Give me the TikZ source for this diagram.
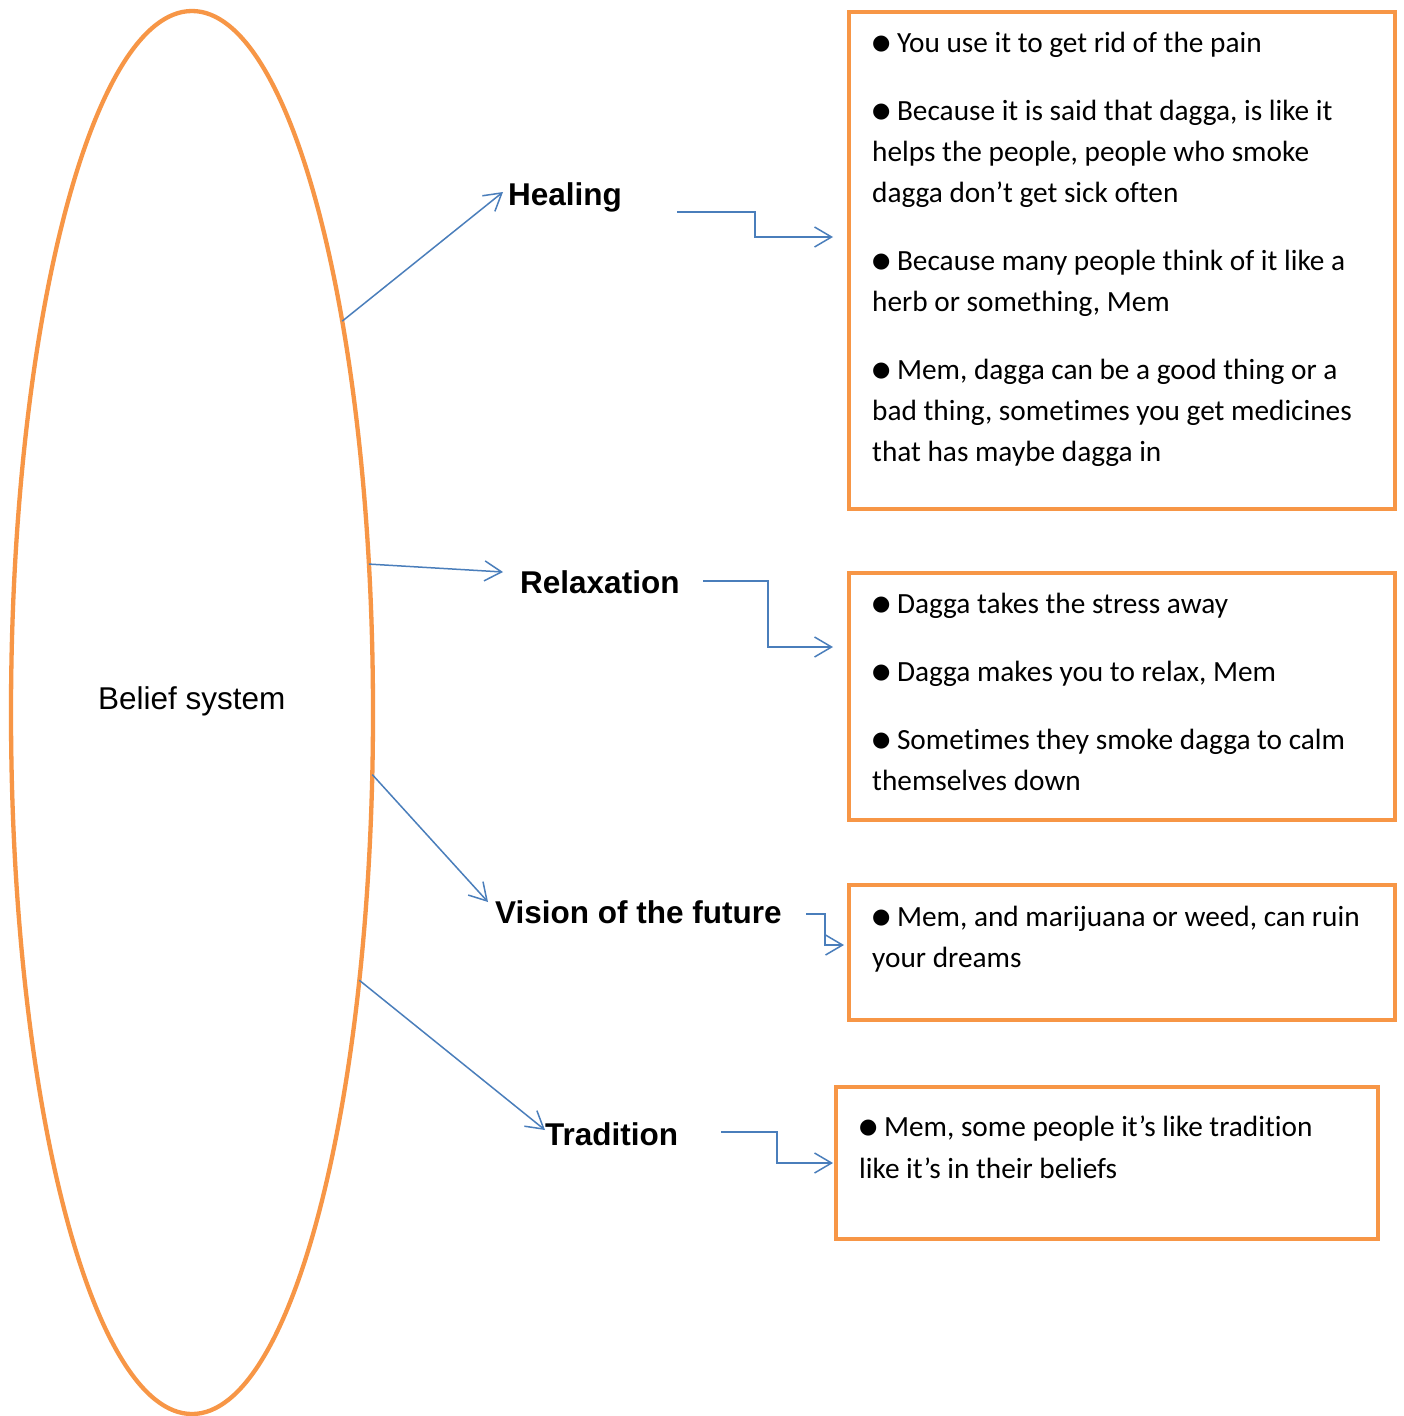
\documentclass[tikz,border=0pt]{standalone}
\usepackage{fontspec}
\setmainfont{Carlito}[Ligatures=NoCommon]
\newfontfamily\labfont{Liberation Sans}
\newfontfamily\bulfont{DejaVu Sans}
\usetikzlibrary{arrows.meta,calc,shapes.geometric}
\definecolor{borange}{HTML}{F79646}
\definecolor{cblue}{HTML}{4A7EBB}
\newcommand{\bul}{\raisebox{2.5pt}{\bulfont\fontsize{21pt}{21pt}\selectfont ●}\hspace{6.5pt}}
\begin{document}
\begin{tikzpicture}[x=1pt,y=-1pt,
  conn/.style={draw=cblue, line width=1.5pt, -{Straight Barb[length=17pt,width=20pt]}},
  obox/.style={draw=borange, line width=4.3pt, rectangle, inner sep=0pt, outer sep=0pt},
  lab/.style={anchor=base west, inner sep=0pt, font=\labfont\bfseries\fontsize{31.5pt}{36pt}\selectfont},
  ln/.style={anchor=base west, inner sep=0pt, font=\fontsize{29.3pt}{41pt}\selectfont},
]
\fill[white] (0,0) rectangle (1404,1416);
\useasboundingbox (0,0) rectangle (1404,1416);

% ellipse
\node[draw=borange, line width=4.3pt, ellipse, minimum width=362pt, minimum height=1403pt, inner sep=0pt, outer sep=0pt] (bel) at (192,712.5) {};
\node[anchor=base west, inner sep=0pt, font=\labfont\fontsize{31.5pt}{36pt}\selectfont] (bs) at (98,709) {Belief system};

% category labels
\node[lab] (heal) at (508,205) {Healing};
\node[lab] (relax) at (520,593) {Relaxation};
\node[lab] (vis) at (495,923) {Vision of the future};
\node[lab] (trad) at (545,1145) {Tradition};

% boxes
\node[obox, minimum width=546pt, minimum height=497pt] (b1) at (1122,260.5) {};
\node[obox, minimum width=546pt, minimum height=247pt] (b2) at (1122,696.5) {};
\node[obox, minimum width=546pt, minimum height=135pt] (b3) at (1122,952.5) {};
\node[obox, minimum width=542pt, minimum height=152pt] (b4) at (1107,1163) {};

% box 1 text
\node[ln] (t11) at (872,52) {\bul You use it to get rid of the pain};
\node[ln] (t12) at (872,120) {\bul Because it is said that dagga, is like it};
\node[ln] (t13) at (872,161) {helps the people, people who smoke};
\node[ln] (t14) at (872,202) {dagga don’t get sick often};
\node[ln] (t15) at (872,270) {\bul Because many people think of it like a};
\node[ln] (t16) at (872,311) {herb or something, Mem};
\node[ln] (t17) at (872,379) {\bul Mem, dagga can be a good thing or a};
\node[ln] (t18) at (872,420) {bad thing, sometimes you get medicines};
\node[ln] (t19) at (872,461) {that has maybe dagga in};
% box 2 text
\node[ln] (t21) at (872,613) {\bul Dagga takes the stress away};
\node[ln] (t22) at (872,681) {\bul Dagga makes you to relax, Mem};
\node[ln] (t23) at (872,749) {\bul Sometimes they smoke dagga to calm};
\node[ln] (t24) at (872,790) {themselves down};
% box 3 text
\node[ln] (t31) at (872,926) {\bul Mem, and marijuana or weed, can ruin};
\node[ln] (t32) at (872,967) {your dreams};
% box 4 text
\node[ln] (t41) at (859,1136) {\bul Mem, some people it’s like tradition};
\node[ln] (t42) at (859,1178) {like it’s in their beliefs};

% arrows from ellipse to labels
\coordinate (ah) at (503,192);
\coordinate (ar) at (503,572);
\coordinate (av) at (488,902);
\coordinate (at) at (545,1130);
\draw[conn] (bel.69) -- (ah);
\draw[conn] (bel.40.5) -- (ar);
\draw[conn] (bel.-19.1) -- (av);
\draw[conn] (bel.-58.3) -- (at);

% elbow connectors from labels to boxes
\coordinate (h1) at (677,212);  \coordinate (h2) at (833,237);
\coordinate (r1) at (703,581);  \coordinate (r2) at (833,647);
\coordinate (v1) at (806,914);  \coordinate (v2) at (844,945);
\coordinate (d1) at (721,1132); \coordinate (d2) at (833,1163);
\draw[conn] (h1) -| ($(h1)!.5!(h2)$) |- (h2);
\draw[conn] (r1) -| ($(r1)!.5!(r2)$) |- (r2);
\draw[conn] (v1) -| ($(v1)!.5!(v2)$) |- (v2);
\draw[conn] (d1) -| ($(d1)!.5!(d2)$) |- (d2);
\end{tikzpicture}
\end{document}
